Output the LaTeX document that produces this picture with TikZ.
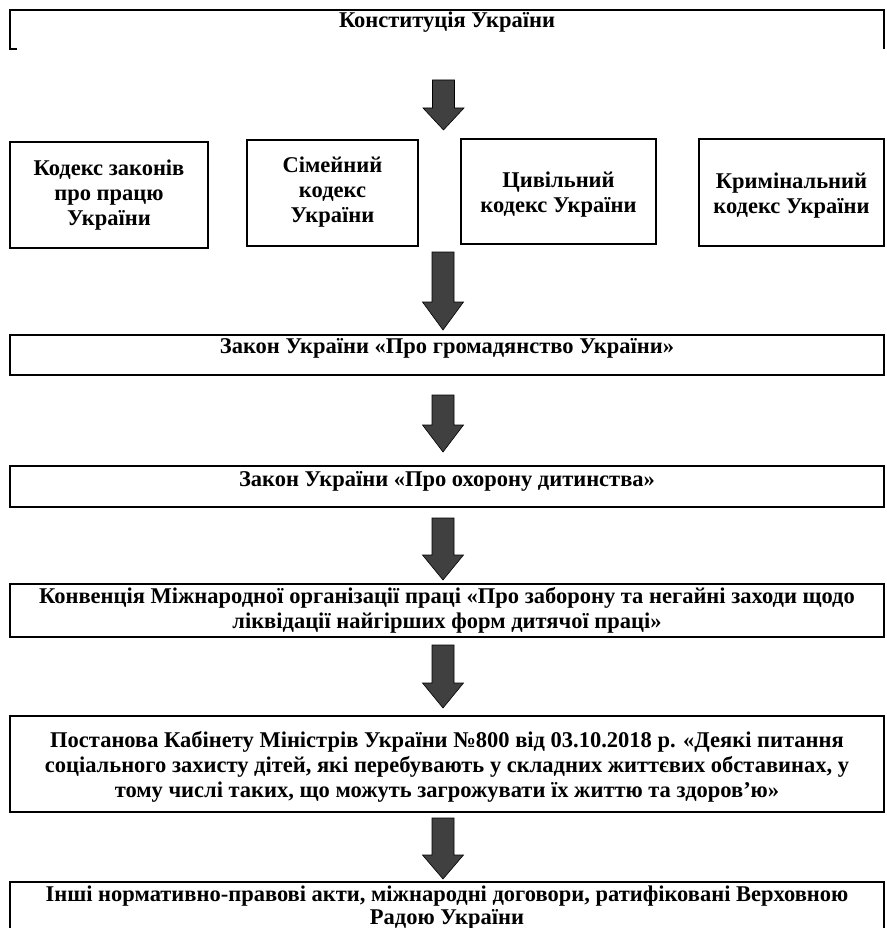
\documentclass[tikz,border=0pt]{standalone}
\usepackage{fontspec}
\setmainfont{Liberation Serif}
\definecolor{arrowfill}{HTML}{404040}
\tikzset{
  boxline/.style={draw=black, line width=1.3pt},
  txt/.style={font=\fontsize{22.5}{25}\selectfont\bfseries, align=center, inner sep=0pt},
  blockarrow/.style={fill=arrowfill, draw=black, line width=0.6pt, line join=miter}
}
\newcommand\barrow[4]{% x, ytop, yhead, ytip
  \path[blockarrow] (#1-11,#2) -- (#1+11,#2) -- (#1+11,#3) -- (#1+20.5,#3) -- (#1,#4) -- (#1-20.5,#3) -- (#1-11,#3) -- cycle;}
\begin{document}
\begin{tikzpicture}[x=1pt,y=-1pt]
\useasboundingbox (0,0) rectangle (886,928);
% top box (open at bottom)
\draw[boxline] (17,49) -- (10,49) -- (10,10) -- (884,10) -- (884,49);
\node[txt] (konst) at (447,22) {Конституція України};
\barrow{443.5}{80}{108}{130}
% four code boxes
\draw[boxline] (10,142) rectangle (208,248);
\node[txt] (kzpp) at (109,195) {Кодекс законів\\про працю\\України};
\draw[boxline] (247,140) rectangle (418,246);
\node[txt] (sk) at (332.5,192) {Сімейний\\кодекс\\України};
\draw[boxline] (461,139) rectangle (656,244);
\node[txt] (ck) at (558.5,195) {Цивільний\\кодекс України};
\draw[boxline] (699,139) rectangle (884,246);
\node[txt] (krk) at (791.5,196) {Кримінальний\\кодекс України};
\barrow{443}{252}{302}{330}
\draw[boxline] (10,335) rectangle (884,375);
\node[txt] (hrom) at (447,348) {Закон України «Про громадянство України»};
\barrow{443}{395}{425}{452}
\draw[boxline] (10,466) rectangle (884,507);
\node[txt] (okh) at (447,481) {Закон України «Про охорону дитинства»};
\barrow{443}{518}{555}{580}
\draw[boxline] (10,584) rectangle (884,637);
\node[txt] (konv) at (447,610.5) {Конвенція Міжнародної організації праці «Про заборону та негайні заходи щодо\\ліквідації найгірших форм дитячої праці»};
\barrow{443}{645}{683}{708}
\draw[boxline] (10,716) rectangle (884,812);
\node[txt] (post) at (447,767) {Постанова Кабінету Міністрів України №800 від 03.10.2018 р. «Деякі питання\\соціального захисту дітей, які перебувають у складних життєвих обставинах, у\\тому числі таких, що можуть загрожувати їх життю та здоров’ю»};
\barrow{443}{818}{855}{879}
\draw[boxline] (10,940) -- (10,882) -- (884,882) -- (884,940);
\node[txt, font=\fontsize{22.5}{23.5}\selectfont\bfseries] (inshi) at (447,907.5) {Інші нормативно-правові акти, міжнародні договори, ратифіковані Верховною\\Радою України};
\end{tikzpicture}
\end{document}
